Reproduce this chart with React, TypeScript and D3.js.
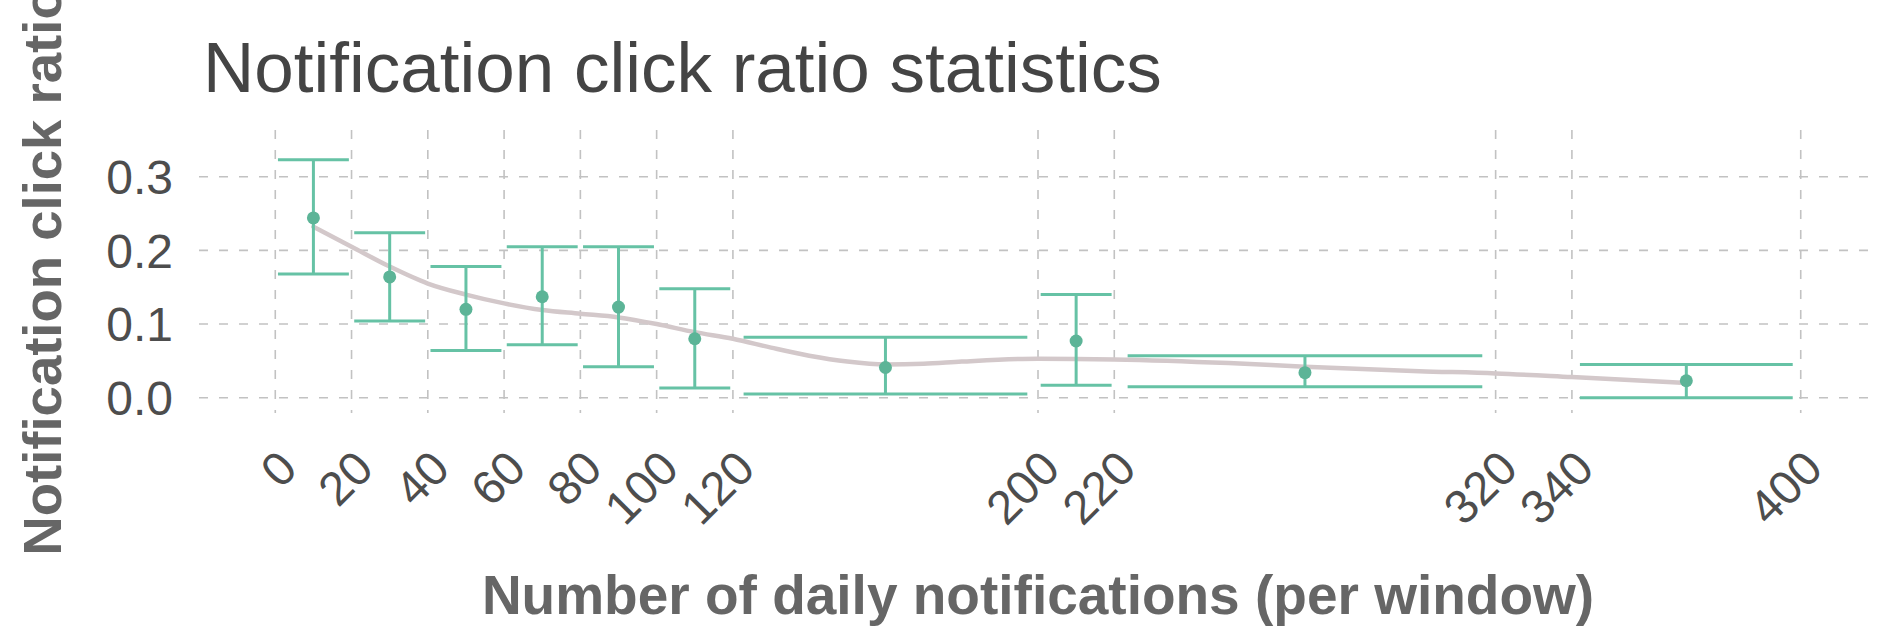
import React from "react";
import * as d3 from "d3";

const binStart = [0, 20, 40, 60, 80, 100, 120, 200, 220, 340];
const binEnd = [20, 40, 60, 80, 100, 120, 200, 220, 320, 400];
const ratio = [0.244, 0.164, 0.12, 0.137, 0.123, 0.08, 0.041, 0.077, 0.034, 0.023];
const lower = [0.168, 0.104, 0.064, 0.072, 0.042, 0.013, 0.005, 0.017, 0.015, 0.0];
const upper = [0.323, 0.224, 0.178, 0.205, 0.205, 0.148, 0.082, 0.14, 0.057, 0.045];

const smoothX = [10, 20, 30, 40, 50, 60, 70, 80, 90, 100, 110, 120, 130, 140, 150, 160, 170, 180, 200, 220, 250, 270, 300, 320, 340, 370];
const smoothY = [0.232, 0.205, 0.178, 0.155, 0.14, 0.128, 0.119, 0.114, 0.109, 0.1, 0.089, 0.08, 0.068, 0.057, 0.049, 0.045, 0.046, 0.049, 0.053, 0.052, 0.047, 0.042, 0.036, 0.033, 0.028, 0.02];

const xTicks = [0, 20, 40, 60, 80, 100, 120, 200, 220, 320, 340, 400];
const yTicks = [0, 0.1, 0.2, 0.3];

const titleText = "Notification click ratio statistics";
const xTitle = "Number of daily notifications (per window)";
const yTitle = "Notification click ratio";

const W = 1889;
const H = 631;
const FONT = "'Liberation Sans', Arial, Helvetica, sans-serif";

export default function App() {
  const panel = { left: 199, right: 1877, top: 130, bottom: 413 };
  const x = d3.scaleLinear().domain([-20, 420]).range([panel.left, panel.right]);
  const y = d3.scaleLinear().domain([0, 0.3]).range([397.7, 176.7]);
  const fmt = d3.format(".1f");

  const smoothData = smoothX.map((v, i) => [v, smoothY[i]] as [number, number]);
  const line = d3
    .line<[number, number]>()
    .x((d) => x(d[0]))
    .y((d) => y(d[1]))
    .curve(d3.curveMonotoneX);

  const gridColor = "#c2c2c2";
  const dash = "9 11";
  const barColor = "#66c2a5";
  const pointColor = "#5cb497";

  return (
    <div style={{ position: "absolute", left: 0, top: 0 }}>
      <svg width={W} height={H} style={{ display: "block", background: "#ffffff" }}>
        <rect x={0} y={0} width={W} height={H} fill="#ffffff" />
        {yTicks.map((t) => (
          <line
            key={"gy" + t}
            x1={panel.left}
            x2={panel.right}
            y1={y(t)}
            y2={y(t)}
            stroke={gridColor}
            strokeWidth={1.6}
            strokeDasharray={dash}
          />
        ))}
        {xTicks.map((t) => (
          <line
            key={"gx" + t}
            x1={x(t)}
            x2={x(t)}
            y1={panel.top}
            y2={panel.bottom}
            stroke={gridColor}
            strokeWidth={1.6}
            strokeDasharray={dash}
          />
        ))}
        <path d={line(smoothData) || ""} fill="none" stroke="#d3c8ca" strokeWidth={4.5} strokeLinecap="round" />
        {binStart.map((s, i) => {
          const e = binEnd[i];
          const c = (s + e) / 2;
          const half = ((e - s) * 0.93) / 2;
          return (
            <g key={"eb" + i} stroke={barColor} strokeWidth={3} fill="none">
              <line x1={x(c)} x2={x(c)} y1={y(lower[i])} y2={y(upper[i])} />
              <line x1={x(c - half)} x2={x(c + half)} y1={y(upper[i])} y2={y(upper[i])} />
              <line x1={x(c - half)} x2={x(c + half)} y1={y(lower[i])} y2={y(lower[i])} />
            </g>
          );
        })}
        {binStart.map((s, i) => (
          <circle key={"pt" + i} cx={x((s + binEnd[i]) / 2)} cy={y(ratio[i])} r={6.5} fill={pointColor} />
        ))}
        {yTicks.map((t) => (
          <text
            key={"yl" + t}
            x={173}
            y={y(t)}
            dy="0.36em"
            textAnchor="end"
            fontFamily={FONT}
            fontSize={48}
            fill="#4d4d4d"
          >
            {fmt(t)}
          </text>
        ))}
        {xTicks.map((t) => (
          <text
            key={"xl" + t}
            transform={`translate(${x(t)},447) rotate(-45)`}
            x={0}
            y={0}
            dy="0.72em"
            textAnchor="end"
            fontFamily={FONT}
            fontSize={47.5}
            fill="#4d4d4d"
          >
            {String(t)}
          </text>
        ))}
        <text x={203} y={92} fontFamily={FONT} fontSize={71} fill="#444444">
          {titleText}
        </text>
        <text
          x={1038}
          y={614}
          textAnchor="middle"
          fontFamily={FONT}
          fontSize={55}
          fontWeight="bold"
          fill="#666666"
        >
          {xTitle}
        </text>
        <text
          transform={`translate(61,271) rotate(-90)`}
          textAnchor="middle"
          fontFamily={FONT}
          fontSize={54.5}
          fontWeight="bold"
          fill="#666666"
        >
          {yTitle}
        </text>
      </svg>
    </div>
  );
}
